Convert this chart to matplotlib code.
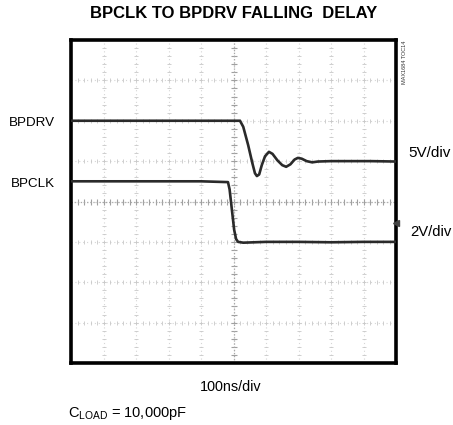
import numpy as np
import matplotlib
matplotlib.use("Agg")
import matplotlib.pyplot as plt

plt.rcParams['font.family'] = ['Liberation Sans', 'DejaVu Sans']

# Data (x in divisions of 100ns, y in screen divisions)
bpdrv_t = [0.0, 2.0, 4.0, 5.2, 5.3, 5.45, 5.58, 5.66, 5.72, 5.79, 5.87, 5.97, 6.09, 6.2, 6.35,
           6.5, 6.62, 6.75, 6.88, 6.98, 7.1, 7.25, 7.42, 7.6, 8.0, 8.5, 9.2, 10.0]
bpdrv_v = [6.0, 6.0, 6.0, 6.0, 5.85, 5.4, 4.95, 4.7, 4.63, 4.67, 4.9, 5.12, 5.23, 5.18, 5.02,
           4.9, 4.86, 4.92, 5.04, 5.08, 5.06, 5.0, 4.97, 4.99, 5.0, 5.0, 5.0, 4.99]
bpclk_t = [0.0, 2.0, 4.0, 4.83, 4.88, 4.95, 5.02, 5.08, 5.14, 5.3, 6.0, 7.0, 8.0, 9.0, 10.0]
bpclk_v = [4.5, 4.5, 4.5, 4.48, 4.3, 3.8, 3.3, 3.07, 3.0, 2.98, 3.0, 3.0, 2.99, 3.0, 3.0]

title = "BPCLK TO BPDRV FALLING  DELAY"
left_labels = ["BPDRV", "BPCLK"]
right_labels = ["5V/div", "2V/div"]
x_label = "100ns/div"
footnote = r"C$_{\mathregular{LOAD}}$ = 10,000pF"
tag = "MAX1684 TOC14"

W, H = 453, 425
fig = plt.figure(figsize=(W/100, H/100), dpi=100)
ax = fig.add_axes([71/W, 1-363/H, 325/W, 323/H])
ax.set_xlim(0, 10)
ax.set_ylim(0, 8)
ax.set_xticks([]); ax.set_yticks([])
for s in ax.spines.values():
    s.set_linewidth(2.6)
    s.set_color('black')

grid_c = '#d6d6d6'
for x in range(1, 10):
    ax.axvline(x, color=grid_c, lw=0.8, ls=(0, (1, 2.5)), zorder=1)
for y in range(1, 8):
    ax.axhline(y, color=grid_c, lw=0.8, ls=(0, (1, 2.5)), zorder=1)
# minor ticks on the grid lines (scope graticule)
minor_x = np.arange(0.2, 10, 0.2)
minor_y = np.arange(0.2, 8, 0.2)
for y in range(1, 8):
    ax.plot(minor_x, np.full_like(minor_x, y), ls='none', marker='|', ms=3,
            mew=0.6, color='#c8c8c8', zorder=1)
for x in range(1, 10):
    ax.plot(np.full_like(minor_y, x), minor_y, ls='none', marker='_', ms=3,
            mew=0.6, color='#c8c8c8', zorder=1)
# center lines darker
ax.plot(minor_x, np.full_like(minor_x, 4), ls='none', marker='|', ms=5,
        mew=0.8, color='#a0a0a0', zorder=1)
ax.plot(np.full_like(minor_y, 5), minor_y, ls='none', marker='_', ms=5,
        mew=0.8, color='#a0a0a0', zorder=1)
ax.axhline(4, color='#a8a8a8', lw=0.9, ls=(0, (1, 1.5)), zorder=1)
ax.axvline(5, color='#a8a8a8', lw=0.9, ls=(0, (1, 1.5)), zorder=1)

ax.plot(bpdrv_t, bpdrv_v, color='#2a2a2a', lw=1.9, zorder=3,
        solid_joinstyle='round', solid_capstyle='round')
ax.plot(bpclk_t, bpclk_v, color='#2a2a2a', lw=1.9, zorder=3,
        solid_joinstyle='round', solid_capstyle='round')
ax.plot([10], [3.47], marker='<', ms=4, color='#444444', clip_on=False, zorder=4)

fig.text(234/W, 1-13/H, title, ha='center', va='center', fontsize=12,
         fontweight='bold')
fig.text(55/W, 1-123/H, left_labels[0], ha='right', va='center', fontsize=9.6)
fig.text(55/W, 1-184/H, left_labels[1], ha='right', va='center', fontsize=9.6)
fig.text(451/W, 1-153/H, right_labels[0], ha='right', va='center', fontsize=11)
fig.text(452/W, 1-232/H, right_labels[1], ha='right', va='center', fontsize=10.7)
fig.text(231/W, 1-387/H, x_label, ha='center', va='center', fontsize=10.4)
fig.text(68/W, 1-413/H, footnote, ha='left', va='center', fontsize=10.5)
fig.text(404/W, 1-62/H, tag, ha='center', va='center', fontsize=4,
         rotation=90, color='#333333')

fig.savefig("out.png", dpi=100)
